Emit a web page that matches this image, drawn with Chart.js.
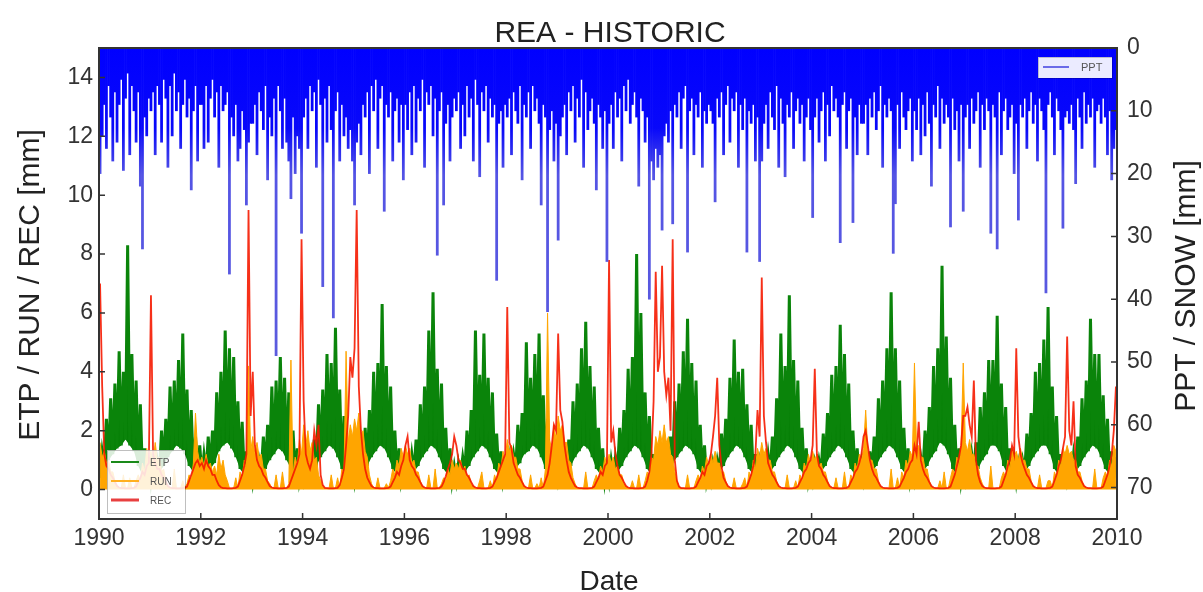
<!DOCTYPE html>
<html><head><meta charset="utf-8">
<script src="https://cdn.jsdelivr.net/npm/chart.js@4.4.1/dist/chart.umd.min.js"></script>
<style>html,body{margin:0;padding:0;background:#fff;}#wrap{width:1203px;height:592px;position:relative;}</style>
</head><body><div id="wrap"><canvas id="c" width="1203" height="592"></canvas></div>
<script>
// ---- data (half-monthly samples, 24 per year, 1990-2009) ----
const startYear = 1990;
const samplesPerYear = 24;
const xTicks = [1990,1992,1994,1996,1998,2000,2002,2004,2006,2008,2010];
const leftTicks = [0,2,4,6,8,10,12,14];
const rightTicks = [0,10,20,30,40,50,60,70];

const etp = [
0.4,1.3,0.8,2.4,1.0,3.1,1.2,3.6,1.4,4.7,1.5,4.0,1.7,8.3,1.5,4.6,1.3,3.7,0.8,2.9,0.5,1.4,0.3,1.1,
0.3,0.9,0.5,1.0,0.6,2.0,0.8,2.4,1.1,3.5,1.3,3.7,1.5,4.4,1.4,5.3,1.2,3.4,0.8,2.7,0.6,1.8,0.4,1.5,
0.5,1.2,0.6,1.8,0.7,2.0,0.9,3.3,1.3,4.0,1.5,5.4,1.6,4.8,1.4,4.5,1.1,3.0,0.7,2.3,0.5,1.3,0.3,1.0,
0.3,0.9,0.5,1.0,0.6,1.8,0.7,2.2,1.0,3.5,1.2,3.7,1.4,4.5,1.3,3.8,1.0,3.3,0.7,2.0,0.5,1.4,0.3,0.7,
0.3,0.8,0.5,1.3,0.6,1.7,0.8,2.9,1.1,3.4,1.3,4.6,1.5,4.3,1.4,5.5,1.1,3.4,0.7,2.5,0.5,1.3,0.3,0.9,
0.3,0.9,0.5,1.1,0.6,2.1,0.8,2.7,1.1,4.0,1.3,4.3,1.5,6.3,1.4,4.2,1.1,3.5,0.7,2.0,0.5,1.4,0.3,0.7,
0.3,0.7,0.5,1.2,0.6,1.7,0.8,2.9,1.1,3.5,1.3,5.4,1.5,6.7,1.4,4.1,1.1,3.6,0.7,2.1,0.5,1.4,0.3,0.8,
0.3,0.9,0.5,1.1,0.6,2.0,0.8,2.7,1.1,5.4,1.3,3.9,1.5,5.3,1.4,3.8,1.1,3.3,0.7,1.9,0.5,1.3,0.3,0.7,
0.4,1.1,0.6,1.2,0.7,2.2,0.9,2.6,1.2,5.0,1.3,3.8,1.5,4.6,1.4,5.3,1.1,3.2,0.7,2.4,0.5,1.2,0.3,0.9,
0.3,0.7,0.5,1.2,0.6,1.7,0.8,3.0,1.1,3.6,1.3,4.8,1.5,5.7,1.4,4.2,1.1,3.5,0.7,2.1,0.5,1.4,0.3,0.8,
0.3,1.0,0.5,1.1,0.6,2.1,0.8,2.7,1.1,4.1,1.3,4.5,1.5,8.0,1.4,6.0,1.1,3.3,0.7,2.5,0.5,1.2,0.3,0.9,
0.4,0.9,0.6,1.4,0.7,1.8,0.9,3.0,1.1,3.6,1.3,4.7,1.5,5.8,1.4,4.3,1.2,3.7,0.7,2.2,0.5,1.5,0.3,0.7,
0.3,0.9,0.5,1.0,0.6,1.9,0.8,2.4,1.1,3.8,1.3,5.1,1.5,4.0,1.4,4.1,1.1,2.9,0.7,2.2,0.5,1.2,0.3,0.9,
0.3,0.7,0.5,1.2,0.6,1.8,0.8,3.1,1.1,5.3,1.3,4.2,1.5,6.6,1.4,4.4,1.1,3.7,0.7,2.1,0.5,1.4,0.3,0.7,
0.3,0.9,0.5,1.0,0.6,1.9,0.8,2.6,1.1,3.9,1.3,4.2,1.5,5.6,1.4,4.6,1.1,3.6,0.7,2.0,0.5,1.4,0.3,0.9,
0.3,0.7,0.5,1.3,0.6,1.8,0.8,3.1,1.1,3.7,1.3,4.8,1.5,6.7,1.4,4.8,1.1,3.7,0.7,2.1,0.5,1.4,0.3,0.7,
0.3,0.9,0.5,1.1,0.6,2.0,0.8,2.8,1.1,4.2,1.3,4.8,1.6,7.6,1.5,5.2,1.2,3.8,0.7,2.2,0.5,1.4,0.3,0.8,
0.3,0.7,0.5,1.2,0.6,1.6,0.7,2.8,1.0,3.3,1.2,4.4,1.5,4.4,1.5,5.9,1.3,3.6,0.8,2.8,0.5,1.4,0.4,1.0,
0.3,0.9,0.5,1.0,0.6,1.9,0.8,2.6,1.1,4.0,1.3,4.3,1.5,5.1,1.5,6.2,1.2,3.5,0.7,2.5,0.5,1.2,0.3,0.9,
0.3,0.7,0.5,1.2,0.6,1.8,0.8,3.1,1.1,3.7,1.3,5.8,1.5,4.6,1.4,4.6,1.1,3.2,0.7,2.4,0.5,1.3,0.4,1.1
];

const run = [
1.6,1.1,1.3,0.9,1.0,0.6,0.6,0.3,0.15,0.05,0.05,0.5,0.05,0.05,0.4,0.05,0.05,0.3,0.5,0.3,0.9,0.6,1.4,0.9,
1.3,0.9,1.6,1.0,1.1,0.6,0.7,0.3,0.1,0.05,0.05,0.7,0.05,0.05,0.05,0.3,0.05,0.2,0.5,0.3,0.9,2.6,1.3,0.9,
1.1,0.8,1.2,0.8,0.9,0.6,0.8,0.5,1.2,0.7,1.0,0.5,0.3,0.05,0.05,0.05,0.4,0.05,0.6,0.4,1.0,0.7,4.2,1.3,
1.8,1.2,1.6,1.1,1.2,0.7,0.7,0.3,0.2,0.05,0.05,0.5,0.05,0.05,0.6,0.05,0.05,0.2,4.4,0.5,1.1,0.8,1.7,1.2,
2.2,1.5,2.0,1.3,1.6,1.0,1.1,0.5,0.3,0.1,0.05,0.05,0.05,0.5,0.05,0.05,0.4,0.05,0.7,0.5,4.7,1.6,2.2,1.8,
2.4,2.0,2.6,1.8,2.0,1.3,1.1,0.5,0.2,0.05,0.05,0.4,0.05,0.05,0.05,0.2,0.05,0.3,0.7,0.5,1.0,0.8,1.4,1.1,
1.5,1.2,1.4,0.9,1.0,0.6,0.6,0.3,0.1,0.05,0.05,0.5,0.05,0.05,0.7,0.05,0.05,0.2,0.4,0.3,0.7,0.5,1.0,0.7,
0.9,0.7,1.0,0.6,0.8,0.4,0.5,0.2,0.1,0.05,0.05,0.3,0.6,0.05,0.05,0.05,0.3,0.05,0.5,0.3,0.9,0.7,1.3,1.0,
1.7,1.3,1.5,1.1,1.1,0.7,0.7,0.3,0.1,0.05,0.05,0.5,0.05,0.05,0.2,0.05,0.4,0.05,0.7,6.0,1.7,1.3,2.2,1.7,
2.5,2.0,2.2,1.6,1.6,1.0,0.9,0.4,0.2,0.05,0.05,0.05,0.05,0.6,0.05,0.05,0.05,0.3,0.5,0.3,0.8,0.6,1.1,0.8,
1.2,0.9,1.1,0.7,0.8,0.5,0.5,0.2,0.1,0.05,0.05,0.3,0.05,0.05,0.5,0.05,0.05,0.3,0.6,0.4,1.1,1.0,1.8,1.5,
2.0,1.6,2.2,1.6,1.8,1.2,1.1,0.6,0.3,0.1,0.05,0.05,0.05,0.5,0.05,0.05,0.05,0.3,0.5,0.3,0.8,0.6,1.1,0.8,
1.2,0.9,1.3,0.9,0.9,0.6,0.6,0.3,0.1,0.05,0.05,0.4,0.05,0.05,0.05,0.2,0.4,0.05,0.6,0.4,1.0,0.7,1.4,1.1,
1.6,1.2,1.4,1.0,1.0,0.6,0.6,0.3,0.1,0.05,0.05,0.05,0.5,0.05,0.05,0.05,0.3,0.05,0.5,0.3,0.9,0.7,1.2,0.9,
1.3,1.0,1.2,0.8,0.9,0.6,0.6,0.3,0.1,0.05,0.05,0.4,0.05,0.05,0.05,0.6,0.05,0.05,0.5,0.3,0.9,0.7,1.2,1.0,
1.4,2.7,1.3,1.0,1.0,0.7,0.7,0.3,0.1,0.05,0.05,0.05,0.05,0.7,0.05,0.05,0.4,0.05,0.6,0.4,1.0,0.8,1.3,1.1,
4.3,1.3,1.5,1.1,1.1,0.7,0.7,0.3,0.1,0.05,0.05,0.05,0.3,0.05,0.6,0.05,0.05,0.4,0.7,0.5,1.1,0.8,1.5,4.3,
1.6,1.3,1.7,1.2,1.2,0.8,0.8,0.4,0.2,0.05,0.05,0.05,0.8,0.05,0.05,0.05,0.05,0.4,0.6,0.4,1.0,0.7,1.4,1.1,
1.3,1.0,1.4,1.0,1.0,0.7,0.7,0.3,0.1,0.05,0.05,0.5,0.05,0.05,0.05,0.3,0.3,0.05,0.6,0.4,1.0,0.8,1.4,1.2,
1.5,1.2,1.3,1.0,1.0,0.6,0.6,0.3,0.1,0.05,0.05,0.05,0.05,0.7,0.05,0.05,0.05,0.4,0.6,0.4,1.0,0.8,1.5,1.3
];

const rec = [
7.0,3.5,1.2,0.8,0.7,0.5,0.4,0.25,0.12,0.07,0.05,0.05,0.04,0.04,0.04,0.05,0.06,0.1,0.25,0.4,0.6,0.5,0.8,0.9,
6.6,1.2,0.9,0.7,0.7,0.5,0.4,0.25,0.12,0.07,0.05,0.05,0.04,0.04,0.04,0.05,0.06,0.1,0.3,0.5,0.7,0.9,1.0,0.8,
0.9,0.7,1.0,0.8,0.7,0.5,0.5,0.3,0.15,0.08,0.05,0.05,0.04,0.04,0.04,0.05,0.06,0.1,0.3,0.5,0.8,1.2,9.5,2.5,
4.0,1.5,1.0,0.8,0.7,0.5,0.4,0.25,0.12,0.07,0.05,0.05,0.04,0.04,0.04,0.05,0.06,0.1,0.3,0.5,0.7,0.9,1.2,8.5,
3.0,1.2,0.9,0.7,1.0,2.0,1.5,2.2,0.5,0.15,0.06,0.05,0.04,0.04,0.04,0.05,0.06,0.15,0.4,0.7,1.5,2.5,4.5,3.8,
4.8,9.5,3.5,2.0,1.2,0.7,0.4,0.25,0.12,0.07,0.05,0.05,0.04,0.04,0.04,0.05,0.06,0.1,0.25,0.4,0.6,0.5,0.8,1.0,
1.5,1.8,1.0,0.8,0.7,0.5,0.4,0.25,0.12,0.07,0.05,0.05,0.04,0.04,0.04,0.05,0.06,0.1,0.25,0.45,0.7,0.9,1.2,1.8,
1.5,1.0,0.9,0.7,0.7,0.5,0.4,0.25,0.12,0.07,0.05,0.05,0.04,0.04,0.04,0.05,0.06,0.1,0.25,0.4,0.6,0.8,1.0,1.2,
6.2,1.6,1.4,0.9,0.7,0.5,0.4,0.25,0.12,0.07,0.05,0.05,0.04,0.04,0.04,0.05,0.06,0.1,0.3,0.5,0.9,1.5,2.2,2.0,
5.3,2.7,2.3,1.5,1.0,0.6,0.4,0.25,0.12,0.07,0.05,0.05,0.04,0.04,0.04,0.05,0.06,0.1,0.25,0.4,0.6,0.5,0.8,0.9,
7.8,1.6,2.0,1.2,0.8,0.5,0.4,0.25,0.12,0.07,0.05,0.05,0.04,0.04,0.04,0.05,0.06,0.1,0.3,0.6,1.2,3.0,7.4,4.0,
4.5,7.6,4.0,3.2,3.8,2.0,8.5,1.0,0.3,0.1,0.05,0.05,0.04,0.04,0.04,0.05,0.06,0.1,0.25,0.4,0.6,0.5,0.8,0.9,
1.2,1.8,2.5,3.8,1.5,0.8,0.4,0.25,0.12,0.07,0.05,0.05,0.04,0.04,0.04,0.05,0.06,0.1,0.3,0.5,0.8,1.2,2.7,1.8,
7.2,2.5,1.6,0.9,0.7,0.5,0.4,0.25,0.12,0.07,0.05,0.05,0.04,0.04,0.04,0.05,0.06,0.1,0.25,0.4,0.6,0.7,0.9,1.0,
1.5,4.1,1.2,0.8,0.7,0.5,0.4,0.25,0.12,0.07,0.05,0.05,0.04,0.04,0.04,0.05,0.06,0.1,0.25,0.4,0.6,0.7,0.9,1.2,
1.8,2.0,1.5,1.0,0.7,0.5,0.4,0.25,0.12,0.07,0.05,0.05,0.04,0.04,0.04,0.05,0.06,0.1,0.25,0.4,0.6,0.7,0.9,1.0,
1.5,1.2,2.3,1.0,0.7,0.5,0.4,0.25,0.12,0.07,0.05,0.05,0.04,0.04,0.04,0.05,0.06,0.1,0.3,0.5,0.8,1.1,1.5,2.5,
2.5,2.8,2.2,1.8,3.7,1.0,0.5,0.25,0.12,0.07,0.05,0.05,0.04,0.04,0.04,0.05,0.06,0.1,0.3,0.5,0.8,1.0,1.5,1.2,
4.8,1.8,1.2,0.9,0.7,0.5,0.4,0.25,0.12,0.07,0.05,0.05,0.04,0.04,0.04,0.05,0.06,0.1,0.3,0.5,0.8,1.0,1.4,1.8,
5.2,2.0,1.5,3.0,0.8,0.5,0.4,0.25,0.12,0.07,0.05,0.05,0.04,0.04,0.04,0.05,0.06,0.1,0.3,0.5,0.8,1.2,2.0,3.5
];

const ppt = [
20,14,9,16,6,11,18,7,15,9,5,19.5,8,4,17,6,10,15,7,22,32,11,14,8,
10,7,17,6,9,15,5,8,19,6,14,4,10,7,16,9,5,11,8,22.6,10,6,18,9,
9,16,6,15,8,5,11,7,19,6,10,9,7,36,11,14,9,18,16,10,13,25,15,12,
12,9,17,7,10,13,6,21,11,14,8,49,6,10,16,8,15,18,24,11,20,14,16,29.5,
11,8,16,6,10,7,19,5,9,38,8,15,6,13,43,10,7,18,9,14,11,16,13,18,
25,15,12,17,9,11,7,20,6,10,5,16,8,6,26,9,11,7,18,10,8,15,9,21,
9,13,7,17,6,15,8,10,5,19,7,9,6,14,8,33,10,7,25,12,9,18,11,8,
10,7,16,9,14,6,11,8,18,5,9,20.5,7,10,6,15,8,11,9,37,12,10,19,9,
11,8,17,7,10,12,6,21,9,11,7,16,6,10,8,12,25,9,11,42,13,10,18,12,
30.6,14,11,9,17,7,10,6,15,8,11,5,19,7,13,10,8,12,22.6,9,11,16,10,34,
12,9,16,7,11,8,18,6,10,5,12,9,7,11,22,8,10,15,11,40,18,21,16,19,
17,29,14,12,15,10,28,9,11,7,16,8,6,32.5,10,8,17,9,11,7,19,10,12,9,
10,12,24.5,8,11,7,17,9,6,15,8,10,7,19,9,13,8,32.5,10,12,9,18,11,34,
18,12,9,16,7,11,13,6,19,8,12,20.5,9,11,7,16,10,8,12,9,18,11,8,13,
27,11,8,15,10,7,18,9,14,6,10,8,11,31,9,7,16,10,8,27.8,11,17,9,12,
12,9,17,8,11,7,13,10,6,19,9,11,8,10,32.7,24.8,9,16,7,11,13,10,8,18,
10,13,8,17,9,14,7,12,22,9,11,6,16,8,12,9,11,28.5,8,13,10,18,9,26,
11,9,16,8,12,10,7,19,9,13,8,10,29.5,9,11,32,7,17,10,8,13,11,9,20,
12,27.4,9,11,8,16,10,7,12,9,18,8,10,13,39,9,7,11,17,8,10,13,28.7,11,
10,12,9,13,21.6,8,11,16,7,12,9,11,8,19,10,9,12,8,11,17,10,21,16,13
];

// ---- build points: sample i sits at the middle of its half-month ----
function toPoints(arr){ return arr.map((v,i)=>({x: startYear + (i+0.5)/samplesPerYear, y: v})); }
const etpPts = toPoints(etp);
const etpLowPts = etpPts.filter((p,i) => i % 2 === 0);   // lower edge of the ETP band

const FONT = '"Liberation Sans", Arial, Helvetica, sans-serif';
Chart.defaults.font.family = FONT;

function pptFill(ctx){
  const ch = ctx.chart, a = ch.chartArea;
  if (!a) return '#2020f0';
  const g = ch.ctx.createLinearGradient(0, a.top, 0, a.bottom);
  g.addColorStop(0, '#0000ff');
  g.addColorStop(0.17, '#0808fa');
  g.addColorStop(0.27, '#5454e4');
  g.addColorStop(1, '#6060d8');
  return g;
}

const decor = {
  id: 'decor',
  afterDraw(chart){
    const c = chart.ctx, a = chart.chartArea;
    const sx = chart.scales.x, sy = chart.scales.y, sy2 = chart.scales.y2;
    c.save();
    c.strokeStyle = '#333'; c.lineWidth = 2;
    c.strokeRect(a.left, a.top, a.right - a.left, a.bottom - a.top);
    c.lineWidth = 1.5; c.beginPath();
    xTicks.forEach(v => { const p = sx.getPixelForValue(v); c.moveTo(p, a.bottom); c.lineTo(p, a.bottom - 6); });
    leftTicks.forEach(v => { const p = sy.getPixelForValue(v); c.moveTo(a.left, p); c.lineTo(a.left + 6, p); });
    rightTicks.forEach(v => { const p = sy2.getPixelForValue(v); c.moveTo(a.right, p); c.lineTo(a.right - 6, p); });
    c.stroke();
    c.fillStyle = '#222';
    c.textAlign = 'center'; c.textBaseline = 'alphabetic';
    c.font = '30px ' + FONT;
    c.fillText('REA - HISTORIC', (a.left + a.right) / 2 + 2, 42);
    c.font = '28px ' + FONT;
    c.fillText('Date', 609, 590);
    c.font = '30px ' + FONT;
    c.save(); c.translate(39, 285); c.rotate(-Math.PI / 2); c.fillText('ETP / RUN / REC [mm]', 0, 0); c.restore();
    c.save(); c.translate(1195, 286); c.rotate(-Math.PI / 2); c.fillText('PPT / SNOW [mm]', 0, 0); c.restore();
    // legend bottom-left
    c.fillStyle = 'rgba(255,255,255,0.85)';
    c.fillRect(107, 450, 78, 63);
    c.strokeStyle = 'rgba(0,0,0,0.25)'; c.lineWidth = 1;
    c.strokeRect(107.5, 450.5, 78, 63);
    const items = [['ETP', '#1a8a1a', 2, 462], ['RUN', '#ffb020', 2, 481], ['REC', '#e84040', 3, 500]];
    c.font = '10px ' + FONT; c.textAlign = 'left'; c.textBaseline = 'middle';
    items.forEach(([t, col, w, y]) => {
      c.strokeStyle = col; c.lineWidth = w;
      c.beginPath(); c.moveTo(111, y); c.lineTo(139, y); c.stroke();
      c.fillStyle = '#555'; c.fillText(t, 150, y + 1);
    });
    // legend top-right
    c.fillStyle = 'rgba(255,255,255,0.92)';
    c.fillRect(1038, 57, 74, 21);
    c.strokeStyle = 'rgba(0,0,0,0.2)'; c.lineWidth = 1;
    c.strokeRect(1038.5, 57.5, 74, 21);
    c.strokeStyle = '#6b6be8'; c.lineWidth = 2;
    c.beginPath(); c.moveTo(1043, 67); c.lineTo(1069, 67); c.stroke();
    c.fillStyle = '#555'; c.font = '11px ' + FONT;
    c.fillText('PPT', 1081, 68);
    c.restore();
  }
};

new Chart(document.getElementById('c'), {
  type: 'line',
  data: {
    datasets: [
      { label: 'PPT', type: 'bar', data: toPoints(ppt), yAxisID: 'y2', backgroundColor: pptFill,
        borderWidth: 0, barPercentage: 1, categoryPercentage: 1, order: 0 },
      { label: 'REC', data: toPoints(rec), yAxisID: 'y', borderColor: 'rgba(245,25,0,0.9)', borderWidth: 1.8,
        pointRadius: 0, fill: false, tension: 0, order: 1 },
      { label: 'RUN', data: toPoints(run), yAxisID: 'y', borderColor: '#ffa500', backgroundColor: '#ffa500',
        borderWidth: 1, pointRadius: 0, fill: 'origin', tension: 0, order: 2 },
      { label: 'ETP', data: etpPts, yAxisID: 'y', borderColor: '#0a840a', backgroundColor: '#067f06',
        borderWidth: 3, pointRadius: 0, fill: { target: 4 }, tension: 0, order: 3 },
      { label: 'ETP-low', data: etpLowPts, yAxisID: 'y', borderColor: 'rgba(0,128,0,0)', borderWidth: 0,
        pointRadius: 0, fill: false, tension: 0, order: 4 }
    ]
  },
  options: {
    responsive: false, animation: false, events: [],
    layout: { padding: { top: 48, left: 0, right: 0, bottom: 0 } },
    plugins: { legend: { display: false }, tooltip: { enabled: false }, title: { display: false } },
    scales: {
      x: { type: 'linear', min: 1990, max: 2010, offset: false,
        grid: { display: false, drawTicks: false }, border: { display: false },
        afterBuildTicks: s => { s.ticks = xTicks.map(v => ({ value: v })); },
        afterFit: s => { s.height = 73; },
        ticks: { autoSkip: false, maxRotation: 0, minRotation: 0, padding: 6, color: '#333',
          font: { size: 23 }, callback: v => String(v) } },
      y: { position: 'left', min: -1, max: 15,
        grid: { display: false, drawTicks: false }, border: { display: false },
        afterBuildTicks: s => { s.ticks = leftTicks.map(v => ({ value: v })); },
        afterFit: s => { s.width = 99; },
        ticks: { autoSkip: false, padding: 6, color: '#333', font: { size: 23 } } },
      y2: { position: 'right', min: 0, max: 75, reverse: true,
        grid: { display: false, drawTicks: false }, border: { display: false },
        afterBuildTicks: s => { s.ticks = rightTicks.map(v => ({ value: v })); },
        afterFit: s => { s.width = 86; },
        ticks: { autoSkip: false, padding: 10, color: '#333', font: { size: 23 } } }
    }
  },
  plugins: [decor]
});
</script>
</body></html>
